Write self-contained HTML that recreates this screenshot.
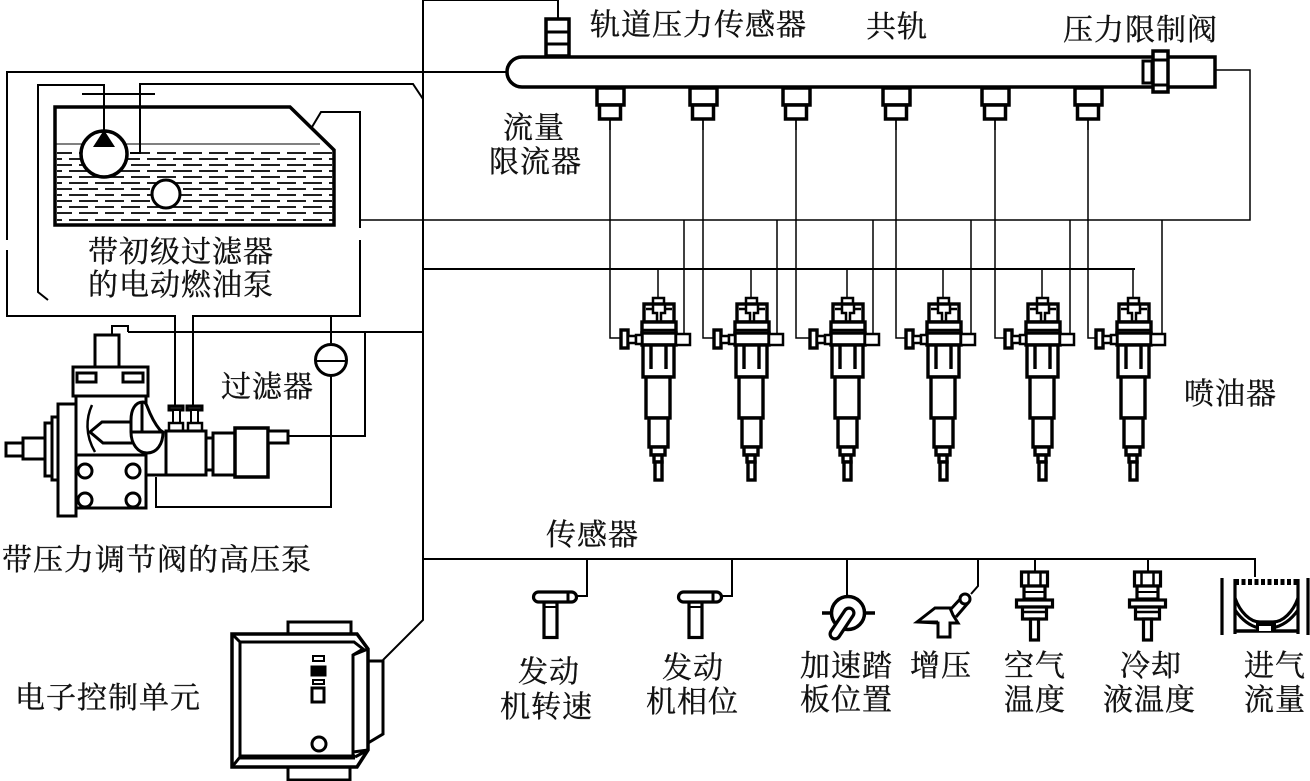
<!DOCTYPE html>
<html lang="zh">
<head>
<meta charset="utf-8">
<title>共轨系统</title>
<style>
html,body{margin:0;padding:0;background:#fff;width:1310px;height:781px;overflow:hidden}
svg{display:block}
text{font-family:"Liberation Serif","Noto Serif CJK SC","Noto Sans CJK SC",serif;font-size:30px;fill:#111;stroke:#111;stroke-width:.35px;letter-spacing:1px}
</style>
</head>
<body>
<svg width="1310" height="781" viewBox="0 0 1310 781" xmlns="http://www.w3.org/2000/svg" fill="none" stroke="#000">
<defs>
<g id="port" stroke-width="3.500">
<rect x="-13" y="88" width="27" height="17" fill="#fff"/>
<rect x="-10.500" y="105" width="21" height="14" fill="#fff"/>
<path d="M0 119V130" stroke-width="1.500"/>
</g>
<g id="inj" stroke-width="3.400" fill="#fff">
<rect x="-5" y="298" width="11" height="6" stroke-width="2.500"/>
<rect x="-14" y="304" width="30" height="18"/>
<path d="M-12 309H-5V313H-1V322M14 309H7V313H3V322M-5 304V309M7 304V309" stroke-width="2.500" fill="none"/>
<rect x="-16" y="322" width="34" height="11"/>
<path d="M-16 330H18" stroke-width="2.500"/>
<rect x="-16" y="333" width="34" height="12"/>
<rect x="18" y="334" width="14" height="11" stroke-width="2.500"/>
<rect x="-37" y="330" width="7" height="18"/>
<rect x="-30" y="336" width="8" height="7" stroke-width="2.500"/>
<rect x="-22" y="335" width="6" height="9" stroke-width="2.500"/>
<rect x="-15" y="345" width="31" height="32"/>
<path d="M-7 345V369M8 345V369"/>
<rect x="-12" y="377" width="24" height="41"/>
<rect x="-9" y="418" width="19" height="29"/>
<rect x="-7" y="447" width="14" height="8"/>
<rect x="-4" y="455" width="8" height="7"/>
<rect x="-3" y="462" width="7" height="18"/>
</g>
<g id="ps" stroke-width="3.200" fill="#fff">
<rect x="12" y="602" width="13" height="35.500"/>
<path d="M12 607H25" stroke-width="2"/>
<rect x="1.500" y="592" width="43" height="10" rx="5"/>
<path d="M36 592V602" stroke-width="3"/>
</g>
<g id="temp" stroke-width="3.200" fill="#fff">
<rect x="-13" y="572" width="26" height="14"/>
<path d="M-6 572V586M6 572V586" stroke-width="2.500"/>
<rect x="-10.500" y="586" width="21" height="13"/>
<path d="M-10.500 592H10.500" stroke-width="2"/>
<rect x="-18" y="600" width="36" height="7"/>
<rect x="-12" y="607" width="24" height="12"/>
<path d="M-12 612H12" stroke-width="2.500"/>
<rect x="-4" y="619" width="8" height="21"/>
</g>
</defs>

<!-- wires -->
<g stroke-width="2">
<path d="M558 18V0H423V620L383 660"/>
<path d="M507 72H7V240M7 250V316H175V405"/>
<path d="M193 405V316H360V240M360 228V112H321L312 127"/>
<path d="M48 300L38 292V85H104V130"/>
<path d="M82 94H155"/>
<path d="M130 153H140V84H413L423 99"/>
<path d="M331 316V343M331 376V507H156V477"/>
<path d="M128 332H423M365 333V436H288"/>
<path d="M112 335V326H128V332"/>
<path d="M423 269H1135"/>
<path d="M423 559H1255V577"/>
<path d="M587 559V596H577M732 559V596H722M847 559V596M978 559V586L971 594M1035 559V572M1148 559V572"/>
</g>
<g stroke-width="1.500">
<path d="M360 220H1250V70H1215"/>
<path d="M610 119V338H621M703 119V338H714M796 119V338H810M896 119V338H906M995 119V338H1005M1088 119V338H1097"/>
<path d="M684 220V334M777 220V334M873 220V334M971 220V334M1070 220V334M1162 220V334"/>
<path d="M658 269V298M751 269V298M847 269V298M943 269V298M1042 269V298M1133 269V298"/>
</g>

<!-- rail -->
<path d="M1215 57H522A15 15 0 0 0 522 87H1215Z" stroke-width="3.500" fill="#fff"/>
<rect x="546" y="19" width="23" height="37" stroke-width="3.500" fill="#fff"/>
<path d="M546 32H569M546 44H569" stroke-width="3"/>
<use href="#port" x="610"/><use href="#port" x="703"/><use href="#port" x="796"/>
<use href="#port" x="896"/><use href="#port" x="995"/><use href="#port" x="1088"/>
<rect x="1143" y="61" width="9" height="22" stroke-width="3" fill="#fff"/>
<rect x="1153" y="51" width="15" height="41" stroke-width="3.500" fill="#fff"/>
<path d="M1153 60H1168M1153 85H1168" stroke-width="3"/>

<!-- injectors -->
<use href="#inj" x="658"/><use href="#inj" x="751"/><use href="#inj" x="847"/>
<use href="#inj" x="943"/><use href="#inj" x="1042"/><use href="#inj" x="1133"/>

<!-- tank -->
<path d="M55 144H320" stroke-width="1"/>
<g stroke-width="1.800" stroke-dasharray="19 7">
<path d="M57 153H333" stroke-dashoffset="4"/><path d="M57 159H333" stroke-dashoffset="14"/>
<path d="M57 165H333" stroke-dashoffset="4"/><path d="M57 171H333" stroke-dashoffset="14"/>
<path d="M57 177H333" stroke-dashoffset="4"/><path d="M57 183H333" stroke-dashoffset="14"/>
<path d="M57 189H333" stroke-dashoffset="4"/><path d="M57 195H333" stroke-dashoffset="14"/>
<path d="M57 201H333" stroke-dashoffset="4"/><path d="M57 207H333" stroke-dashoffset="14"/>
<path d="M57 213H333" stroke-dashoffset="4"/><path d="M57 220H333" stroke-dashoffset="14"/>
</g>
<path d="M55 107H290L334 150V225H55Z" stroke-width="3.500"/>
<circle cx="104" cy="154" r="23" stroke-width="3.500" fill="#fff"/>
<path d="M93 147H115L104 130Z" fill="#000" stroke="none"/>
<circle cx="166" cy="194" r="14" stroke-width="3" fill="#fff"/>

<!-- filter -->
<circle cx="331" cy="360" r="15.500" stroke-width="3" fill="#fff"/>
<path d="M316 361H346" stroke-width="2"/>

<!-- HP pump -->
<g stroke-width="3" fill="#fff">
<rect x="95" y="335" width="24" height="32"/>
<rect x="73" y="367" width="75" height="29"/>
<rect x="77" y="373" width="19" height="9"/>
<rect x="123" y="373" width="20" height="9"/>
<rect x="6" y="443" width="17" height="13"/>
<rect x="23" y="438" width="22" height="21"/>
<rect x="45" y="423" width="7" height="53"/>
<rect x="52" y="417" width="6" height="63"/>
<rect x="58" y="404" width="18" height="112"/>
<rect x="76" y="396" width="70" height="59"/>
<rect x="76" y="455" width="70" height="53"/>
<circle cx="85" cy="471" r="7"/><circle cx="133" cy="471" r="7"/>
<circle cx="85" cy="500" r="7"/><circle cx="133" cy="500" r="7"/>
<path d="M76 455H146V508H76Z" fill="none"/>
<path d="M146 475H166"/>
<path d="M92 405C86 418 85 435 95 452" fill="none" stroke-width="2.500"/>
<path d="M132 422H102L90 432L103 443H132" fill="none"/>
<path d="M143 402C135 402 131 410 131 420V432C131 444 138 453 147 453C157 453 163 444 163 432L160 430C155 424 150 414 147 406C146 403 144 402 143 402Z"/>
<path d="M131 432H163M142 402V432" fill="none"/>
<rect x="169" y="406" width="14" height="4" fill="#333"/>
<rect x="173" y="410" width="7" height="14" stroke-width="2"/>
<rect x="169" y="423" width="14" height="8" stroke-width="2.500"/>
<rect x="187" y="406" width="15" height="4" fill="#333"/>
<rect x="191" y="410" width="7" height="14" stroke-width="2"/>
<rect x="188" y="423" width="14" height="8" stroke-width="2.500"/>
<rect x="166" y="431" width="40" height="44"/>
<rect x="206" y="438" width="7" height="32"/>
<rect x="213" y="433" width="22" height="42"/>
<rect x="235" y="428" width="33" height="49" stroke-width="3.500"/>
<rect x="268" y="431" width="20" height="12"/>
</g>

<!-- ECU -->
<g stroke-width="3" fill="#fff">
<path d="M288 634V622H351V634"/>
<path d="M288 767V780H350V767"/>
<path d="M368 661H383V734L368 743Z"/>
<path d="M232 634H357L368 649V750L357 767H232Z" stroke-width="3.500"/>
<path d="M240 642H354L363 649L353 655V757H240Z"/>
<path d="M240 757H355" stroke-width="5"/>
<path d="M232 634L240 642M232 767L240 757M355 757L368 750" fill="none"/>
<path d="M353 655L368 649M353 752L368 750" fill="none"/>
<rect x="313" y="656" width="11" height="5" stroke-width="2"/>
<rect x="312" y="667" width="13" height="8" fill="#000"/>
<rect x="313" y="680" width="11" height="4" stroke-width="2"/>
<rect x="312" y="688" width="12" height="14"/>
<circle cx="319" cy="744" r="7"/>
</g>

<!-- sensors -->
<use href="#ps" x="532"/>
<use href="#ps" x="677"/>
<!-- pedal -->
<g fill="#fff">
<path d="M822 613H831M865 613H875" stroke-width="3.500"/>
<circle cx="848" cy="613" r="16.500" stroke-width="3.500"/>
<path d="M849 613L835 634" stroke-width="13" stroke-linecap="round"/>
<path d="M849 613L835 634" stroke="#fff" stroke-width="6.500" stroke-linecap="round"/>
</g>
<!-- boost -->
<g stroke-width="3" fill="#fff">
<path d="M917 622L935 608H950L953 615L958 623H950V637H938V623Z"/>
<path d="M950 610L962 597M956 617L968 603"/>
<circle cx="965" cy="599" r="5"/>
<path d="M917 622H938" stroke-width="3"/>
</g>
<use href="#temp" x="1034.500"/>
<use href="#temp" x="1147.500"/>
<!-- air mass -->
<g stroke-width="3.200" fill="#fff">
<path d="M1222 578V635M1308 578V635"/>
<path d="M1235 579V634M1298 579V634"/>
<path d="M1235 582H1298" stroke-dasharray="4 2.500" stroke-width="6"/>
<path d="M1235 598C1240 612 1250 622 1260 622H1273C1283 622 1293 612 1298 598" fill="none"/>
<path d="M1235 610C1242 620 1250 626 1259 628M1298 610C1291 620 1283 626 1272 628" fill="none"/>
<path d="M1235 631H1298" stroke-width="3.500"/>
<path d="M1256 623H1276V630H1256Z" fill="#000" stroke="none"/>
<rect x="1259" y="626" width="12" height="5" fill="#fff" stroke="none"/>
</g>

<!-- labels -->
<g>
<text x="590" y="35">轨道压力传感器</text>
<text x="866" y="37">共轨</text>
<text x="1063" y="40">压力限制阀</text>
<text x="503" y="138">流量</text>
<text x="489" y="172">限流器</text>
<text x="88" y="262">带初级过滤器</text>
<text x="88" y="295">的电动燃油泵</text>
<text x="221" y="397">过滤器</text>
<text x="1184" y="404">喷油器</text>
<text x="2" y="570">带压力调节阀的高压泵</text>
<text x="546" y="545">传感器</text>
<text x="15" y="708">电子控制单元</text>
<text x="518" y="682">发动</text>
<text x="500" y="717">机转速</text>
<text x="662" y="678">发动</text>
<text x="646" y="712">机相位</text>
<text x="800" y="676">加速踏</text>
<text x="800" y="710">板位置</text>
<text x="910" y="676">增压</text>
<text x="1004" y="676">空气</text>
<text x="1004" y="710">温度</text>
<text x="1120" y="676">冷却</text>
<text x="1103" y="710">液温度</text>
<text x="1244" y="676">进气</text>
<text x="1244" y="710">流量</text>
</g>
</svg>
</body>
</html>
